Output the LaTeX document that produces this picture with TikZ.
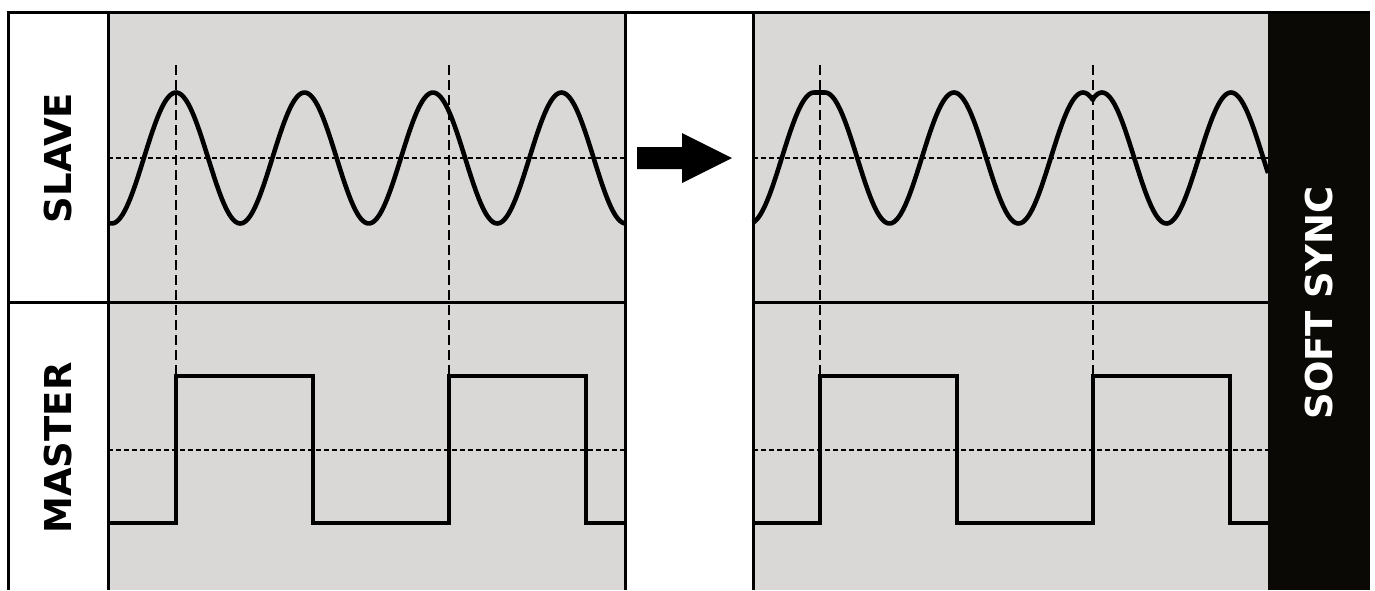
\documentclass[tikz,border=0pt]{standalone}
\usepackage{fontspec}
\setsansfont{DejaVu Sans}
\definecolor{panelgray}{RGB}{217,216,214}
\definecolor{barblack}{RGB}{11,9,5}
\begin{document}
\begin{tikzpicture}[x=1pt,y=-1pt,
  frame/.style={line width=3pt, draw=black},
  midline/.style={line width=1.2pt, dash pattern=on 5pt off 3pt},
  syncline/.style={line width=1.2pt, dash pattern=on 10pt off 5pt},
  wave/.style={line width=4.6pt, line join=round},
  sidelabel/.style={font=\fontsize{37}{37}\selectfont\bfseries\sffamily, rotate=90, inner sep=0pt}]
\useasboundingbox (0,0) rectangle (1375,590);
\fill[white] (0,0) rectangle (1375,590);

% panels
\fill[panelgray] (108,12) rectangle (625,590);
\fill[panelgray] (753,12) rectangle (1268,590);
\fill[barblack] (1268,12) rectangle (1370,590);

% reference lines
\draw[midline] (108,158) -- (625,158);
\draw[midline] (108,450) -- (625,450);
\draw[midline] (753,158) -- (1268,158);
\draw[midline] (753,450) -- (1268,450);
\draw[syncline] (176,65) -- (176,376);
\draw[syncline] (449,65) -- (449,376);
\draw[syncline] (820,65) -- (820,376);
\draw[syncline] (1093,65) -- (1093,376);

% degrees per pixel
\def\dppA{2.80156}% period 128.5
\def\dppB{2.79070}% period 129

% slave, free running
\draw[wave] plot[domain=108:625, samples=220, smooth] (\x, {158-65.5*cos(\dppA*(\x-176))});

% slave, soft synced
\draw[wave]
  plot[domain=753:814, samples=40, smooth] (\x, {158-65.5*cos(\dppB*(\x-814))})
  -- (825,92.5)
  -- plot[domain=825:1093, samples=140, smooth] (\x, {158-65.5*cos(\dppB*(\x-825))})
  -- plot[domain=1093:1268, samples=100, smooth] (\x, {158-65.5*cos(\dppB*(\x-1102))});

% master square waves
\draw[wave, line join=miter] (108,523) -- (176,523) -- (176,376) -- (313,376) -- (313,523)
  -- (449,523) -- (449,376) -- (586,376) -- (586,523) -- (625,523);
\draw[wave, line join=miter] (753,523) -- (820,523) -- (820,376) -- (957,376) -- (957,523)
  -- (1093,523) -- (1093,376) -- (1230,376) -- (1230,523) -- (1268,523);

% frame and dividers
\draw[frame] (8,590) -- (8,12) -- (1370,12);
\draw[frame] (108,12) -- (108,590);
\draw[frame] (625,12) -- (625,590);
\draw[frame] (753,12) -- (753,590);
\draw[frame] (8,302) -- (625,302);
\draw[frame] (753,302) -- (1268,302);

% arrow between the panels
\fill[black] (637,147) -- (682,147) -- (682,133) -- (732,158) -- (682,183) -- (682,169) -- (637,169) -- cycle;

% labels
\node[sidelabel] (slave) at (58,158) {SLAVE};
\node[sidelabel] (master) at (58,448) {MASTER};
\node[sidelabel, text=white] (softsync) at (1319,303) {SOFT SYNC};
\end{tikzpicture}
\end{document}
